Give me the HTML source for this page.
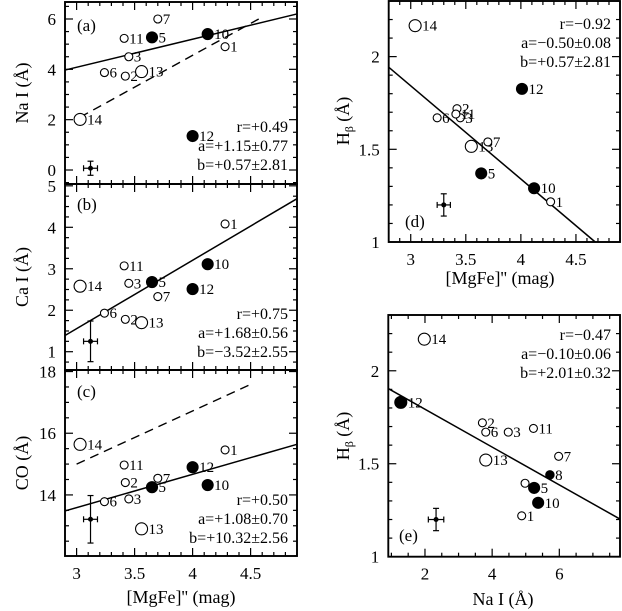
<!DOCTYPE html>
<html><head><meta charset="utf-8"><style>
html,body{margin:0;padding:0;background:#fff;}
svg{display:block;font-family:"Liberation Serif",serif;}
</style></head><body>
<svg id="fig" width="622" height="611" viewBox="0 0 622 611" xmlns="http://www.w3.org/2000/svg">
<text transform="translate(28,93) rotate(-90)" text-anchor="middle" font-size="18">Na I (Å)</text>
<text transform="translate(28,277) rotate(-90)" text-anchor="middle" font-size="18">Ca I (Å)</text>
<text transform="translate(28,463) rotate(-90)" text-anchor="middle" font-size="18">CO (Å)</text>
<text x="181" y="603" text-anchor="middle" font-size="18">[MgFe]'' (mag)</text>
<text transform="translate(349,121) rotate(-90)" text-anchor="middle" font-size="18">H<tspan font-size="12" dy="4">β</tspan><tspan dy="-4"> (Å)</tspan></text>
<text x="500" y="284" text-anchor="middle" font-size="18">[MgFe]'' (mag)</text>
<text transform="translate(349,436) rotate(-90)" text-anchor="middle" font-size="18">H<tspan font-size="12" dy="4">β</tspan><tspan dy="-4"> (Å)</tspan></text>
<text x="503" y="605" text-anchor="middle" font-size="18">Na I (Å)</text>
</svg>
<script>
// Panel (a): Na I vs [MgFe]''
const aLabels=["14","6","2","13","3","11","5","7","10","1","12"];
const aX=[3.03,3.24,3.42,3.56,3.45,3.41,3.65,3.70,4.13,4.28,4.00];
const aY=[2.01,3.87,3.73,3.91,4.50,5.23,5.27,6.00,5.40,4.90,1.35];
const aKind=["big","o","o","big","o","o","f","o","f","o","f"];
const aFitX=[2.9,4.9], aFitY=[3.97,6.20];
const aDashX=[3.03,4.57], aDashY=[2.10,6.00];
const aErr=[3.12,0.07,0.06,0.28];
const aStats=["r=+0.49","a=+1.15±0.77","b=+0.57±2.81"];
// Panel (b): Ca I vs [MgFe]''
const bLabels=["14","6","2","13","3","11","5","7","10","12","1"];
const bX=[3.03,3.24,3.42,3.56,3.45,3.41,3.65,3.70,4.13,4.00,4.28];
const bY=[2.58,1.93,1.78,1.70,2.65,3.07,2.68,2.33,3.11,2.51,4.08];
const bKind=["big","o","o","big","o","o","f","o","f","f","o"];
const bFitX=[2.9,4.9], bFitY=[1.39,4.69];
const bErr=[3.12,1.25,0.06,0.49];
const bStats=["r=+0.75","a=+1.68±0.56","b=−3.52±2.55"];
// Panel (c): CO vs [MgFe]''
const cLabels=["14","11","2","6","3","5","7","12","10","1","13"];
const cX=[3.03,3.41,3.42,3.24,3.45,3.65,3.70,4.00,4.13,4.28,3.56];
const cY=[15.64,14.97,14.40,13.78,13.87,14.25,14.54,14.90,14.32,15.46,12.90];
const cKind=["big","o","o","o","o","f","o","f","f","o","big"];
const cFitX=[2.9,4.9], cFitY=[13.48,15.64];
const cDashX=[3.0,4.51], cDashY=[15.0,17.6];
const cErr=[3.12,13.21,0.06,0.77];
const cStats=["r=+0.50","a=+1.08±0.70","b=+10.32±2.56"];
// Panel (d): Hbeta vs [MgFe]''
const dLabels=["14","12","2","6","3","11","13","7","5","10","1"];
const dX=[3.04,4.01,3.42,3.24,3.45,3.41,3.55,3.70,3.64,4.12,4.27];
const dY=[2.167,1.826,1.719,1.67,1.67,1.69,1.516,1.54,1.37,1.29,1.217];
const dKind=["big","f","o","o","o","o","big","o","f","f","o"];
const dFitX=[2.8,4.675], dFitY=[1.943,1.0];
const dErr=[3.30,1.20,0.06,0.06];
const dStats=["r=−0.92","a=−0.50±0.08","b=+0.57±2.81"];
// Panel (e): Hbeta vs Na I
const eLabels=["14","12","2","6","3","11","13","7","8","","5","10","1"];
const eX=[1.98,1.28,3.71,3.81,4.48,5.23,3.81,5.98,5.72,4.98,5.25,5.37,4.88];
const eY=[2.17,1.83,1.72,1.67,1.67,1.69,1.52,1.54,1.44,1.395,1.37,1.29,1.22];
const eKind=["big","fbig","o","o","o","o","big","o","fs","o","f","f","o"];
const eFitX=[0.92,7.8], eFitY=[1.903,1.203];
const eErr=[2.33,1.20,0.23,0.06];
const eStats=["r=−0.47","a=−0.10±0.06","b=+2.01±0.32"];

const NS="http://www.w3.org/2000/svg";
const svg=document.getElementById("fig");
function mk(tag,attrs,parent){const e=document.createElementNS(NS,tag);for(const k in attrs)e.setAttribute(k,attrs[k]);(parent||svg).appendChild(e);return e;}
function r4(v){return Math.round(v*1e6)/1e6;}

function panel(p){
  const g=mk("g",{});
  
  
  const sx=v=>p.x0+(v-p.xd[0])/(p.xd[1]-p.xd[0])*(p.x1-p.x0);
  const sy=v=>p.y1-(v-p.yd[0])/(p.yd[1]-p.yd[0])*(p.y1-p.y0);
  const fr=mk("rect",{x:p.x0,y:p.y0,width:p.x1-p.x0,height:p.y1-p.y0,fill:"none",stroke:"#000","stroke-width":1.9},g);
  
  
  const nxm=Math.round((p.xd[1]-p.xd[0])/p.xminor)+2;
  for(let i=-1;i<nxm;i++){
    const v=r4(Math.ceil(p.xd[0]/p.xminor)*p.xminor+i*p.xminor);
    if(v<p.xd[0]-1e-9||v>p.xd[1]+1e-9)continue;
    const major=Math.abs(v/p.xmajor-Math.round(v/p.xmajor))<1e-6;
    const L=major?8:4,X=sx(v);
    mk("line",{x1:X,x2:X,y1:p.y1,y2:p.y1-L,stroke:"#000","stroke-width":1.2},g);
    mk("line",{x1:X,x2:X,y1:p.y0,y2:p.y0+L,stroke:"#000","stroke-width":1.2},g);
    if(major&&p.xlab){const t=mk("text",{x:X,y:p.y1+23,"text-anchor":"middle","font-size":17},g);t.textContent=String(v);
      
      }
  }
  const nym=Math.round((p.yd[1]-p.yd[0])/p.yminor)+2;
  for(let i=-1;i<nym;i++){
    const v=r4(Math.ceil(p.yd[0]/p.yminor)*p.yminor+i*p.yminor);
    if(v<p.yd[0]-1e-9||v>p.yd[1]+1e-9)continue;
    const major=Math.abs(v/p.ymajor-Math.round(v/p.ymajor))<1e-6;
    const L=major?8:4,Y=sy(v);
    mk("line",{x1:p.x0,x2:p.x0+L,y1:Y,y2:Y,stroke:"#000","stroke-width":1.2},g);
    mk("line",{x1:p.x1,x2:p.x1-L,y1:Y,y2:Y,stroke:"#000","stroke-width":1.2},g);
    if(major){const t=mk("text",{x:p.x0-9,y:Y+6,"text-anchor":"end","font-size":17},g);t.textContent=String(v);
      
      }
  }
  const fit=mk("line",{x1:sx(p.fitX[0]),y1:sy(p.fitY[0]),x2:sx(p.fitX[1]),y2:sy(p.fitY[1]),stroke:"#000","stroke-width":1.5},g);
  
  
  if(p.dashX){const d=mk("line",{x1:sx(p.dashX[0]),y1:sy(p.dashY[0]),x2:sx(p.dashX[1]),y2:sy(p.dashY[1]),stroke:"#000","stroke-width":1.4,"stroke-dasharray":"9,6"},g);
    
    }
  for(let i=0;i<p.X.length;i++){
    const k=p.kind[i];
    const r={o:4,big:6,f:5.5,fbig:6,fs:4.2}[k];
    const filled=k[0]==="f";
    const c=mk("circle",{cx:sx(p.X[i]),cy:sy(p.Y[i]),r:r,fill:filled?"#000":"#fff",stroke:"#000","stroke-width":1.1},g);
    
    
    if(p.labels[i]){const t=mk("text",{x:sx(p.X[i])+r+1,y:sy(p.Y[i])+5,"font-size":15},g);t.textContent=p.labels[i];
      
      }
  }
  const [ex,ey,dx,dy]=p.err;
  const eg=mk("g",{stroke:"#000","stroke-width":1.2},g);
  
  
  mk("line",{x1:sx(ex-dx),x2:sx(ex+dx),y1:sy(ey),y2:sy(ey)},eg);
  mk("line",{x1:sx(ex),x2:sx(ex),y1:sy(ey-dy),y2:sy(ey+dy)},eg);
  mk("line",{x1:sx(ex-dx),x2:sx(ex-dx),y1:sy(ey)-3,y2:sy(ey)+3},eg);
  mk("line",{x1:sx(ex+dx),x2:sx(ex+dx),y1:sy(ey)-3,y2:sy(ey)+3},eg);
  mk("line",{x1:sx(ex)-3,x2:sx(ex)+3,y1:sy(ey-dy),y2:sy(ey-dy)},eg);
  mk("line",{x1:sx(ex)-3,x2:sx(ex)+3,y1:sy(ey+dy),y2:sy(ey+dy)},eg);
  mk("circle",{cx:sx(ex),cy:sy(ey),r:2.5,fill:"#000",stroke:"none"},eg);
  for(let i=0;i<3;i++){const t=mk("text",{x:p.x1-9,y:p.statY+i*19,"text-anchor":"end","font-size":16},g);t.textContent=p.stats[i];
    
    }
  const tl=mk("text",{x:p.tag[0],y:p.tag[1],"font-size":17},g);tl.textContent=p.tagText;
  
  
}
panel({name:"panel-a",x0:65,x1:297,y0:2,y1:184,xd:[2.9,4.9],yd:[-0.556,6.675],xminor:0.1,xmajor:0.5,yminor:0.5,ymajor:2,xlab:false,
  X:aX,Y:aY,kind:aKind,labels:aLabels,fitX:aFitX,fitY:aFitY,dashX:aDashX,dashY:aDashY,err:aErr,stats:aStats,statY:132,tag:[77,31],tagText:"(a)"});
panel({name:"panel-b",x0:65,x1:297,y0:184,y1:370,xd:[2.9,4.9],yd:[0.559,5.044],xminor:0.1,xmajor:0.5,yminor:0.25,ymajor:1,xlab:false,
  X:bX,Y:bY,kind:bKind,labels:bLabels,fitX:bFitX,fitY:bFitY,err:bErr,stats:bStats,statY:319,tag:[77,210],tagText:"(b)"});
panel({name:"panel-c",x0:65,x1:297,y0:370,y1:556,xd:[2.9,4.9],yd:[12.02,18.05],xminor:0.1,xmajor:0.5,yminor:0.5,ymajor:2,xlab:true,
  X:cX,Y:cY,kind:cKind,labels:cLabels,fitX:cFitX,fitY:cFitY,dashX:cDashX,dashY:cDashY,err:cErr,stats:cStats,statY:505,tag:[77,397],tagText:"(c)"});
panel({name:"panel-d",x0:388.7,x1:620,y0:1,y1:242,xd:[2.8,4.9],yd:[1,2.3],xminor:0.1,xmajor:0.5,yminor:0.1,ymajor:0.5,xlab:true,
  X:dX,Y:dY,kind:dKind,labels:dLabels,fitX:dFitX,fitY:dFitY,err:dErr,stats:dStats,statY:29,tag:[405,227],tagText:"(d)"});
panel({name:"panel-e",x0:388.3,x1:620,y0:315,y1:556.7,xd:[0.908,7.807],xminor:0.5,xmajor:2,yd:[1,2.3],yminor:0.1,ymajor:0.5,xlab:true,
  X:eX,Y:eY,kind:eKind,labels:eLabels,fitX:eFitX,fitY:eFitY,err:eErr,stats:eStats,statY:340,tag:[399,541],tagText:"(e)"});
</script>
</body></html>
